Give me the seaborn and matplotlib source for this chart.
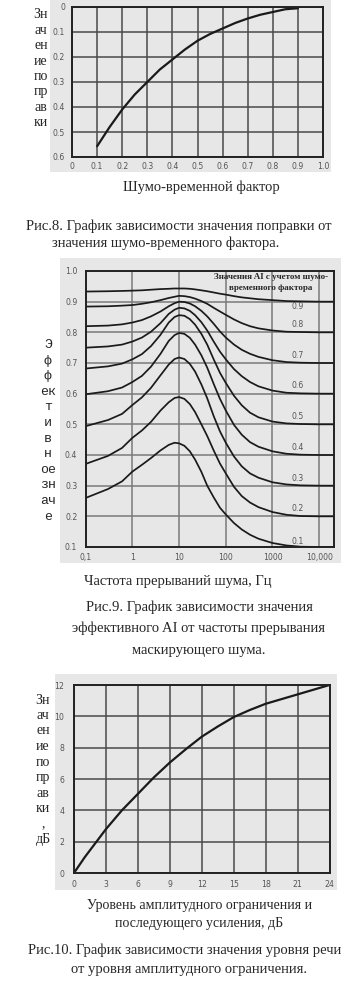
import numpy as np
import pandas as pd
import matplotlib
matplotlib.use("Agg")
import matplotlib.pyplot as plt
import seaborn as sns
from matplotlib.patches import Rectangle

# ---------------- data: Fig. 8 ----------------
noise_time_factor = [0.1, 0.15, 0.2, 0.25, 0.3, 0.35, 0.4, 0.45, 0.5, 0.55, 0.6, 0.65, 0.7, 0.75, 0.8, 0.85, 0.9]
correction_value = [0.557, 0.48, 0.41, 0.35, 0.30, 0.25, 0.21, 0.17, 0.135, 0.108, 0.086, 0.064, 0.046, 0.031, 0.02, 0.009, 0.005]
fig8_xticks = [0, 0.1, 0.2, 0.3, 0.4, 0.5, 0.6, 0.7, 0.8, 0.9, 1.0]
fig8_xlabels = ["0", "0.1", "0.2", "0.3", "0.4", "0.5", "0.6", "0.7", "0.8", "0.9", "1.0"]
fig8_yticks = [0, 0.1, 0.2, 0.3, 0.4, 0.5, 0.6]
fig8_ylabels = ["0", "0.1", "0.2", "0.3", "0.4", "0.5", "0.6"]

# ---------------- data: Fig. 9 ----------------
interrupt_freq = [0.1, 0.3, 0.6, 1, 1.6, 2.5, 4, 6, 8, 10, 13, 17, 22, 30, 40, 55, 75,
                  100, 150, 220, 330, 500, 1000, 2000, 4000, 10000, 20000]
ai_levels = ["0.9", "0.8", "0.7", "0.6", "0.5", "0.4", "0.3", "0.2", "0.1"]
ai_09 = [0.933, 0.934, 0.935, 0.936, 0.937, 0.939, 0.941, 0.942, 0.943, 0.943,
         0.943, 0.942, 0.940, 0.937, 0.934, 0.930, 0.926, 0.923, 0.918, 0.914, 0.911, 0.908, 0.905, 0.902, 0.901, 0.900, 0.900]
ai_08 = [0.884, 0.885, 0.887, 0.889, 0.893, 0.898, 0.905, 0.912, 0.916, 0.919,
         0.918, 0.915, 0.910, 0.902, 0.893, 0.880, 0.868, 0.857, 0.842, 0.830, 0.820, 0.813, 0.806, 0.802, 0.801, 0.800, 0.800]
ai_07 = [0.820, 0.822, 0.826, 0.832, 0.840, 0.852, 0.868, 0.885, 0.895, 0.900,
         0.899, 0.894, 0.885, 0.870, 0.852, 0.828, 0.803, 0.783, 0.760, 0.743, 0.730, 0.720, 0.709, 0.703, 0.701, 0.700, 0.700]
ai_06 = [0.750, 0.754, 0.760, 0.770, 0.783, 0.802, 0.830, 0.860, 0.874, 0.880,
         0.878, 0.870, 0.856, 0.833, 0.806, 0.770, 0.737, 0.712, 0.680, 0.657, 0.638, 0.624, 0.610, 0.603, 0.601, 0.600, 0.600]
ai_05 = [0.682, 0.689, 0.698, 0.712, 0.729, 0.755, 0.792, 0.832, 0.850, 0.856,
         0.854, 0.843, 0.825, 0.795, 0.760, 0.712, 0.668, 0.635, 0.593, 0.562, 0.538, 0.523, 0.509, 0.503, 0.501, 0.500, 0.500]
ai_04 = [0.598, 0.608, 0.620, 0.638, 0.658, 0.688, 0.730, 0.772, 0.791, 0.798,
         0.795, 0.782, 0.760, 0.725, 0.685, 0.632, 0.583, 0.545, 0.498, 0.466, 0.442, 0.427, 0.412, 0.404, 0.401, 0.400, 0.400]
ai_03 = [0.494, 0.514, 0.534, 0.563, 0.588, 0.619, 0.660, 0.695, 0.713, 0.718,
         0.713, 0.697, 0.672, 0.630, 0.585, 0.527, 0.477, 0.440, 0.395, 0.363, 0.340, 0.326, 0.311, 0.304, 0.301, 0.300, 0.300]
ai_02 = [0.371, 0.397, 0.423, 0.456, 0.480, 0.508, 0.545, 0.572, 0.586, 0.589,
         0.583, 0.566, 0.540, 0.500, 0.462, 0.415, 0.372, 0.340, 0.296, 0.266, 0.245, 0.230, 0.214, 0.205, 0.201, 0.200, 0.200]
ai_01 = [0.260, 0.289, 0.314, 0.346, 0.368, 0.390, 0.415, 0.433, 0.440, 0.438,
         0.430, 0.412, 0.385, 0.345, 0.300, 0.262, 0.228, 0.206, 0.178, 0.157, 0.140, 0.127, 0.113, 0.105, 0.101, 0.100, 0.100]
fig9_xticks = [0.1, 1, 10, 100, 1000, 10000]
fig9_xlabels = ["0,1", "1", "10", "100", "1000", "10,000"]
fig9_yticks = [0.1, 0.2, 0.3, 0.4, 0.5, 0.6, 0.7, 0.8, 0.9, 1.0]
fig9_ylabels = ["0.1", "0.2", "0.3", "0.4", "0.5", "0.6", "0.7", "0.8", "0.9", "1.0"]

# ---------------- data: Fig. 10 ----------------
clip_level = [0, 0.5, 1, 1.5, 2, 3, 4.5, 6, 7.5, 9, 10.5, 12, 13.5, 15, 16.5, 18, 19.5, 21, 22.5, 24]
speech_gain = [0, 0.5, 1.0, 1.45, 1.9, 2.8, 4.0, 5.05, 6.1, 7.05, 7.9, 8.7, 9.35, 9.95, 10.4, 10.8, 11.1, 11.4, 11.7, 12.0]
fig10_xticks = [0, 3, 6, 9, 12, 15, 18, 21, 24]
fig10_xlabels = ["0", "3", "6", "9", "12", "15", "18", "21", "24"]
fig10_yticks = [0, 2, 4, 6, 8, 10, 12]
fig10_ylabels = ["0", "2", "4", "6", "8", "10", "12"]

# ---------------- texts ----------------
fig8_ylabel_parts = ["Зн", "ач", "ен", "ие", "по", "пр", "ав", "ки"]
fig8_xlabel = "Шумо-временной фактор"
fig8_caption = ["Рис.8. График зависимости значения поправки от", "значения шумо-временного фактора."]
fig9_ylabel_parts = ["Э", "ф", "ф", "ек", "т", "и", "в", "н", "ое", "зн", "ач", "е"]
fig9_xlabel = "Частота прерываний шума, Гц"
fig9_legend = ["Значения AI с учетом шумо-", "временного фактора"]
fig9_caption = ["Рис.9. График зависимости значения", "эффективного AI от частоты прерывания", "маскирующего шума."]
fig10_ylabel_parts = ["Зн", "ач", "ен", "ие", "по", "пр", "ав", "ки", ",", "дБ"]
fig10_xlabel = ["Уровень амплитудного ограничения и", "последующего усиления, дБ"]
fig10_caption = ["Рис.10. График зависимости значения уровня речи", "от уровня амплитудного ограничения."]

# ---------------- figure ----------------
sns.set_theme(style="white")
plt.rcParams["font.family"] = ["Liberation Serif", "DejaVu Sans"]

W, H = 359, 988
fig = plt.figure(figsize=(W / 100, H / 100), dpi=100)
fig.patch.set_facecolor("white")


def rect(l, t, r, b):
    return [l / W, 1 - b / H, (r - l) / W, (b - t) / H]


def ftext(x, y, s, **kw):
    kw.setdefault("ha", "center")
    kw.setdefault("va", "center")
    fig.text(x / W, 1 - y / H, s, **kw)


STIPPLE = "#e7e7e7"
for (l, t, r, b) in [(50, 0, 331, 172), (60, 258, 341, 563), (55, 674, 337, 890)]:
    fig.patches.append(Rectangle((l / W, 1 - b / H), (r - l) / W, (b - t) / H,
                                 transform=fig.transFigure, facecolor=STIPPLE,
                                 edgecolor="none", zorder=-10))

tick_kw = dict(length=0, labelsize=5.6, labelcolor="#555555")
tick_font = "DejaVu Sans"


def style_axes(ax, gridcolor, gridlw):
    ax.set_facecolor(STIPPLE)
    ax.grid(True, color=gridcolor, lw=gridlw)
    ax.set_axisbelow(True)
    for sp in ax.spines.values():
        sp.set_color("#222222")
        sp.set_linewidth(1.4)
        sp.set_visible(True)
    for lab in ax.get_xticklabels() + ax.get_yticklabels():
        lab.set_fontfamily(tick_font)
    ax.set_xlabel("")
    ax.set_ylabel("")


# ---- Fig. 8 ----
ax1 = fig.add_axes(rect(72, 7, 323, 157))
df8 = pd.DataFrame({"factor": noise_time_factor, "corr": correction_value})
sns.lineplot(data=df8, x="factor", y="corr", ax=ax1, color="#1a1a1a", lw=1.6)
ax1.set_xlim(0, 1.0)
ax1.set_ylim(0.6, 0)
ax1.set_xticks(fig8_xticks, fig8_xlabels)
ax1.set_yticks(fig8_yticks, fig8_ylabels)
ax1.tick_params(axis="y", pad=5, **tick_kw)
ax1.tick_params(axis="x", pad=3.5, **tick_kw)
style_axes(ax1, "#4a4a4a", 1.1)

for i, s in enumerate(fig8_ylabel_parts):
    ftext(41, 15 + 15.4 * i, s, fontsize=10)
ftext(201, 187, fig8_xlabel, fontsize=10.5)
ftext(179, 226, fig8_caption[0], fontsize=10.5)
ftext(166, 243, fig8_caption[1], fontsize=10.5)

# ---- Fig. 9 ----
ax2 = fig.add_axes(rect(85.7, 271, 334, 547))
series = [ai_09, ai_08, ai_07, ai_06, ai_05, ai_04, ai_03, ai_02, ai_01]
rows = []
for lvl, vals in zip(ai_levels, series):
    for f, v in zip(interrupt_freq, vals):
        rows.append({"freq": f, "ai": v, "level": lvl})
df9 = pd.DataFrame(rows)
sns.lineplot(data=df9, x="freq", y="ai", units="level", estimator=None,
             ax=ax2, color="#1a1a1a", lw=1.25, legend=False)
ax2.set_xscale("log")
ax2.set_xlim(0.1, 20750)
ax2.set_ylim(0.1, 1.0)
ax2.minorticks_off()
ax2.set_xticks(fig9_xticks, fig9_xlabels)
ax2.set_yticks(fig9_yticks, fig9_ylabels)
ax2.tick_params(axis="y", pad=6, **tick_kw)
ax2.tick_params(axis="x", pad=4, **tick_kw)
style_axes(ax2, "#7a7a7a", 1.1)
for lvl in ai_levels:
    v = float(lvl)
    dy = -0.015 if lvl == "0.9" else (0.017 if lvl == "0.1" else 0.025)
    ax2.text(3500, v + dy, lvl, fontsize=5.6, color="#555555", ha="center",
             va="center", family=tick_font)

ftext(271, 277, fig9_legend[0], fontsize=6.5, fontweight="bold")
ftext(271, 288, fig9_legend[1], fontsize=6.5, fontweight="bold")

for i, s in enumerate(fig9_ylabel_parts):
    ftext(48, 345 + 15.6 * i, s, fontsize=9.5, family=["Liberation Mono", "DejaVu Sans"])
ftext(178, 582, fig9_xlabel, fontsize=10.5)
ftext(199, 607, fig9_caption[0], fontsize=10.5)
ftext(199, 628, fig9_caption[1], fontsize=10.5)
ftext(199, 650, fig9_caption[2], fontsize=10.5)

# ---- Fig. 10 ----
ax3 = fig.add_axes(rect(74, 685, 329.5, 873))
df10 = pd.DataFrame({"clip": clip_level, "gain": speech_gain})
sns.lineplot(data=df10, x="clip", y="gain", ax=ax3, color="#1a1a1a", lw=1.6)
ax3.set_xlim(0, 24)
ax3.set_ylim(0, 12)
ax3.set_xticks(fig10_xticks, fig10_xlabels)
ax3.set_yticks(fig10_yticks, fig10_ylabels)
ax3.tick_params(axis="y", pad=7, **tick_kw)
ax3.tick_params(axis="x", pad=5, **tick_kw)
style_axes(ax3, "#4a4a4a", 1.1)

for i, s in enumerate(fig10_ylabel_parts):
    ftext(43, 700 + 15.5 * i, s, fontsize=10)
ftext(200, 905, fig10_xlabel[0], fontsize=10)
ftext(199, 923, fig10_xlabel[1], fontsize=10)
ftext(185, 950, fig10_caption[0], fontsize=10.5)
ftext(189, 969, fig10_caption[1], fontsize=10.5)

fig.savefig("out.png", dpi=100, facecolor="white")
